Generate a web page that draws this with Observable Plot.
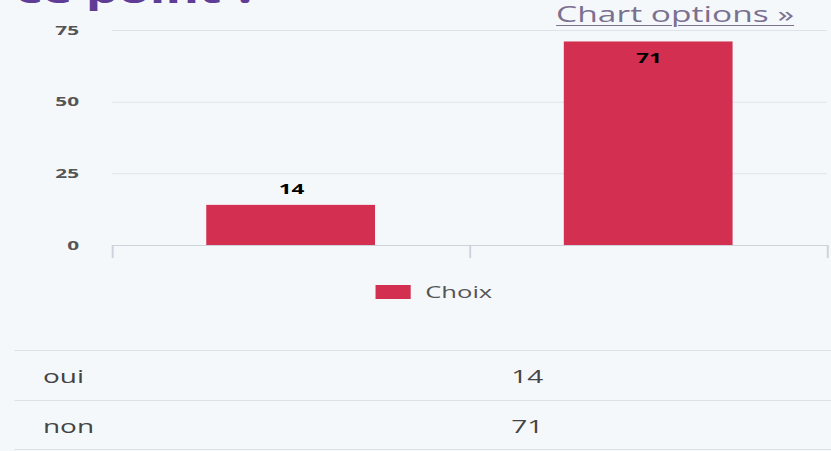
<!DOCTYPE html>
<html>
<head>
<meta charset="utf-8">
<script src="https://cdn.jsdelivr.net/npm/d3@7"></script>
<script src="https://cdn.jsdelivr.net/npm/@observablehq/plot@0.6"></script>
<style>
  html, body { margin: 0; padding: 0; background: #f5f8fb; overflow: hidden; }
  #wrap { position: relative; width: 520px; height: 451px; transform: scaleX(1.598); transform-origin: 0 0; font-family: "Open Sans", sans-serif; }
  #title { position: absolute; left: 10px; top: -25px; font-size: 32px; line-height: 32px; font-weight: 700; color: #5f3d97; white-space: nowrap; }
  #link { position: absolute; left: 348px; top: 4px; font-size: 21px; line-height: 21px; color: #7a7090; text-decoration: underline; text-decoration-thickness: 1px; text-underline-offset: 3px; white-space: nowrap; }
  #chart { position: absolute; left: 0; top: 0; }
  #legend { position: absolute; left: 234.6px; top: 281px; display: flex; align-items: center; gap: 9px; font-size: 16px; color: #555; }
  #legend .sw { width: 22.5px; height: 14px; }
  .row { position: absolute; left: 9.4px; width: 511px; height: 49px; border-top: 1px solid #dde2e8; font-size: 17.5px; color: #444; display: flex; align-items: center; }
  .row .c1 { position: absolute; left: 17.5px; }
  .row .c2 { position: absolute; left: 310.6px; }
  .last { position: absolute; left: 9.4px; width: 511px; border-top: 1px solid #dde2e8; }
</style>
</head>
<body>
<div id="wrap">
  <div id="title">ce point ?</div>
  <div id="link">Chart options »</div>
  <div id="chart"></div>
  <div id="legend"></div>
  <div id="table"></div>
</div>
<script>
const categories = ["oui", "non"];
const values = [14, 71];
const seriesName = "Choix";
const yTicks = [0, 25, 50, 75];
const barColor = "#d22f51";

const data = categories.map((c, i) => ({category: c, i, value: values[i]}));
const boundaries = d3.range(categories.length + 1).map(k => k - 0.5);

const chart = Plot.plot({
  width: 520,
  height: 265,
  marginLeft: 70,
  marginRight: 2.5,
  marginTop: 30,
  marginBottom: 20,
  style: {background: "transparent", fontFamily: "Open Sans, sans-serif", overflow: "visible"},
  x: {type: "linear", domain: [-0.5, categories.length - 0.5]},
  y: {domain: [0, 75]},
  marks: [
    Plot.ruleY(yTicks.filter(d => d > 0), {stroke: "#dfe3e8", strokeWidth: 1}),
    Plot.rectY(data, {x1: d => d.i - 0.236, x2: d => d.i + 0.236, y: "value", fill: barColor}),
    Plot.ruleY([0], {stroke: "#ccd3da", strokeWidth: 1.2}),
    Plot.axisX({ticks: boundaries, tickSize: 13, tickFormat: () => "", label: null, stroke: "#ccd3da", strokeWidth: 1.2, strokeOpacity: 1}),
    Plot.axisY({ticks: yTicks, tickSize: 0, tickPadding: 21, fontWeight: "bold", fontSize: 13, fill: "#555", label: null}),
    Plot.text(data.filter(d => d.value < 65), {x: "i", y: "value", text: d => String(d.value), dy: -16, fontWeight: "bold", fontSize: 14, fill: "#000"}),
    Plot.text(data.filter(d => d.value >= 65), {x: "i", y: "value", text: d => String(d.value), dy: 17, fontWeight: "bold", fontSize: 14, fill: "#000"})
  ]
});
document.getElementById("chart").appendChild(chart);

const legend = document.getElementById("legend");
legend.innerHTML = `<div class="sw" style="background:${barColor}"></div><span>${seriesName}</span>`;

const table = document.getElementById("table");
const rowTops = [350, 400];
data.forEach((d, k) => {
  const r = document.createElement("div");
  r.className = "row";
  r.style.top = rowTops[k] + "px";
  r.innerHTML = `<span class="c1">${d.category}</span><span class="c2">${d.value}</span>`;
  table.appendChild(r);
});
const last = document.createElement("div");
last.className = "last";
last.style.top = "449px";
table.appendChild(last);
</script>
</body>
</html>
